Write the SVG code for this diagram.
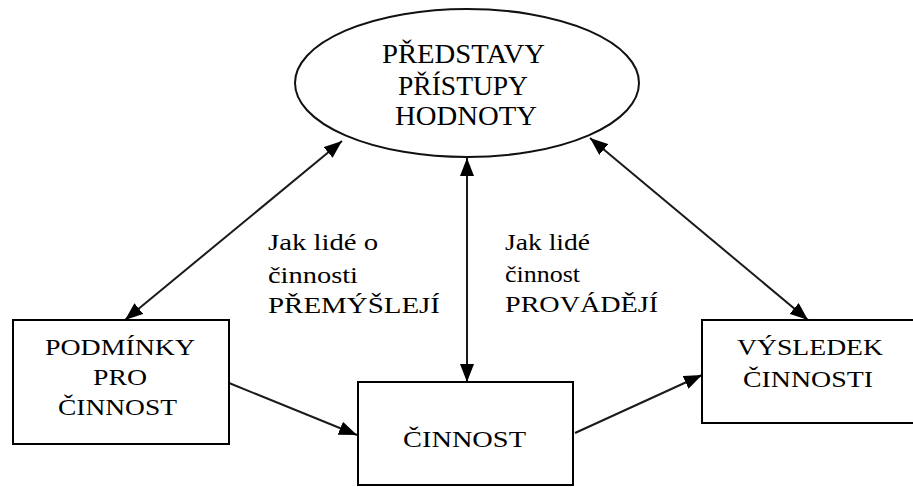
<svg xmlns="http://www.w3.org/2000/svg" width="913" height="487" viewBox="0 0 913 487">
<style>
text{font-family:"Liberation Serif","Times New Roman",serif;font-size:24px;fill:#000}
.e{font-size:27px}
.box{fill:#fff;stroke:#000;stroke-width:2}
.c{stroke:#1a1a1a;stroke-width:2;fill:none}
</style>
<defs>
<marker id="ah" viewBox="0 0 18 14" refX="18" refY="7" markerWidth="18" markerHeight="14" markerUnits="userSpaceOnUse" orient="auto-start-reverse">
<path d="M0,0 L18,7 L0,14 z" fill="#000"/>
</marker>
</defs>
<rect width="913" height="487" fill="#fff"/>
<g id="connectors">
<line class="c" x1="125" y1="320" x2="342" y2="141" marker-start="url(#ah)" marker-end="url(#ah)"/>
<line class="c" x1="467" y1="158" x2="467" y2="382" marker-start="url(#ah)" marker-end="url(#ah)"/>
<line class="c" x1="590" y1="138" x2="808" y2="320" marker-start="url(#ah)" marker-end="url(#ah)"/>
<line class="c" x1="229" y1="383" x2="357" y2="435" marker-end="url(#ah)"/>
<line class="c" x1="575" y1="433" x2="702" y2="375" marker-end="url(#ah)"/>
</g>
<g id="predstavy">
<ellipse cx="467" cy="83" rx="172" ry="74" fill="none" stroke="#111" stroke-width="2"/>
<text class="e" x="382" y="63" textLength="163" lengthAdjust="spacingAndGlyphs">PŘEDSTAVY</text>
<text class="e" x="398" y="95" textLength="130" lengthAdjust="spacingAndGlyphs">PŘÍSTUPY</text>
<text class="e" x="395" y="125" textLength="142" lengthAdjust="spacingAndGlyphs">HODNOTY</text>
</g>
<g id="podminky">
<rect class="box" x="13" y="320" width="216" height="124"/>
<text x="45" y="355" textLength="150" lengthAdjust="spacingAndGlyphs">PODMÍNKY</text>
<text x="93" y="385" textLength="54" lengthAdjust="spacingAndGlyphs">PRO</text>
<text x="58" y="415" textLength="119" lengthAdjust="spacingAndGlyphs">ČINNOST</text>
</g>
<g id="cinnost">
<rect class="box" x="358" y="382" width="215" height="103"/>
<text x="403" y="447" textLength="123" lengthAdjust="spacingAndGlyphs">ČINNOST</text>
</g>
<g id="vysledek">
<rect class="box" x="702" y="320" width="220" height="103"/>
<text x="737" y="355" textLength="146" lengthAdjust="spacingAndGlyphs">VÝSLEDEK</text>
<text x="743" y="387" textLength="130" lengthAdjust="spacingAndGlyphs">ČINNOSTI</text>
</g>
<g id="label-premysleji">
<text x="268" y="250" textLength="110" lengthAdjust="spacingAndGlyphs">Jak lidé o</text>
<text x="268" y="283" textLength="90" lengthAdjust="spacingAndGlyphs">činnosti</text>
<text x="268" y="313" textLength="172" lengthAdjust="spacingAndGlyphs">PŘEMÝŠLEJÍ</text>
</g>
<g id="label-provadeji">
<text x="505" y="250" textLength="85" lengthAdjust="spacingAndGlyphs">Jak lidé</text>
<text x="505" y="282" textLength="75" lengthAdjust="spacingAndGlyphs">činnost</text>
<text x="505" y="312" textLength="153" lengthAdjust="spacingAndGlyphs">PROVÁDĚJÍ</text>
</g>
</svg>
